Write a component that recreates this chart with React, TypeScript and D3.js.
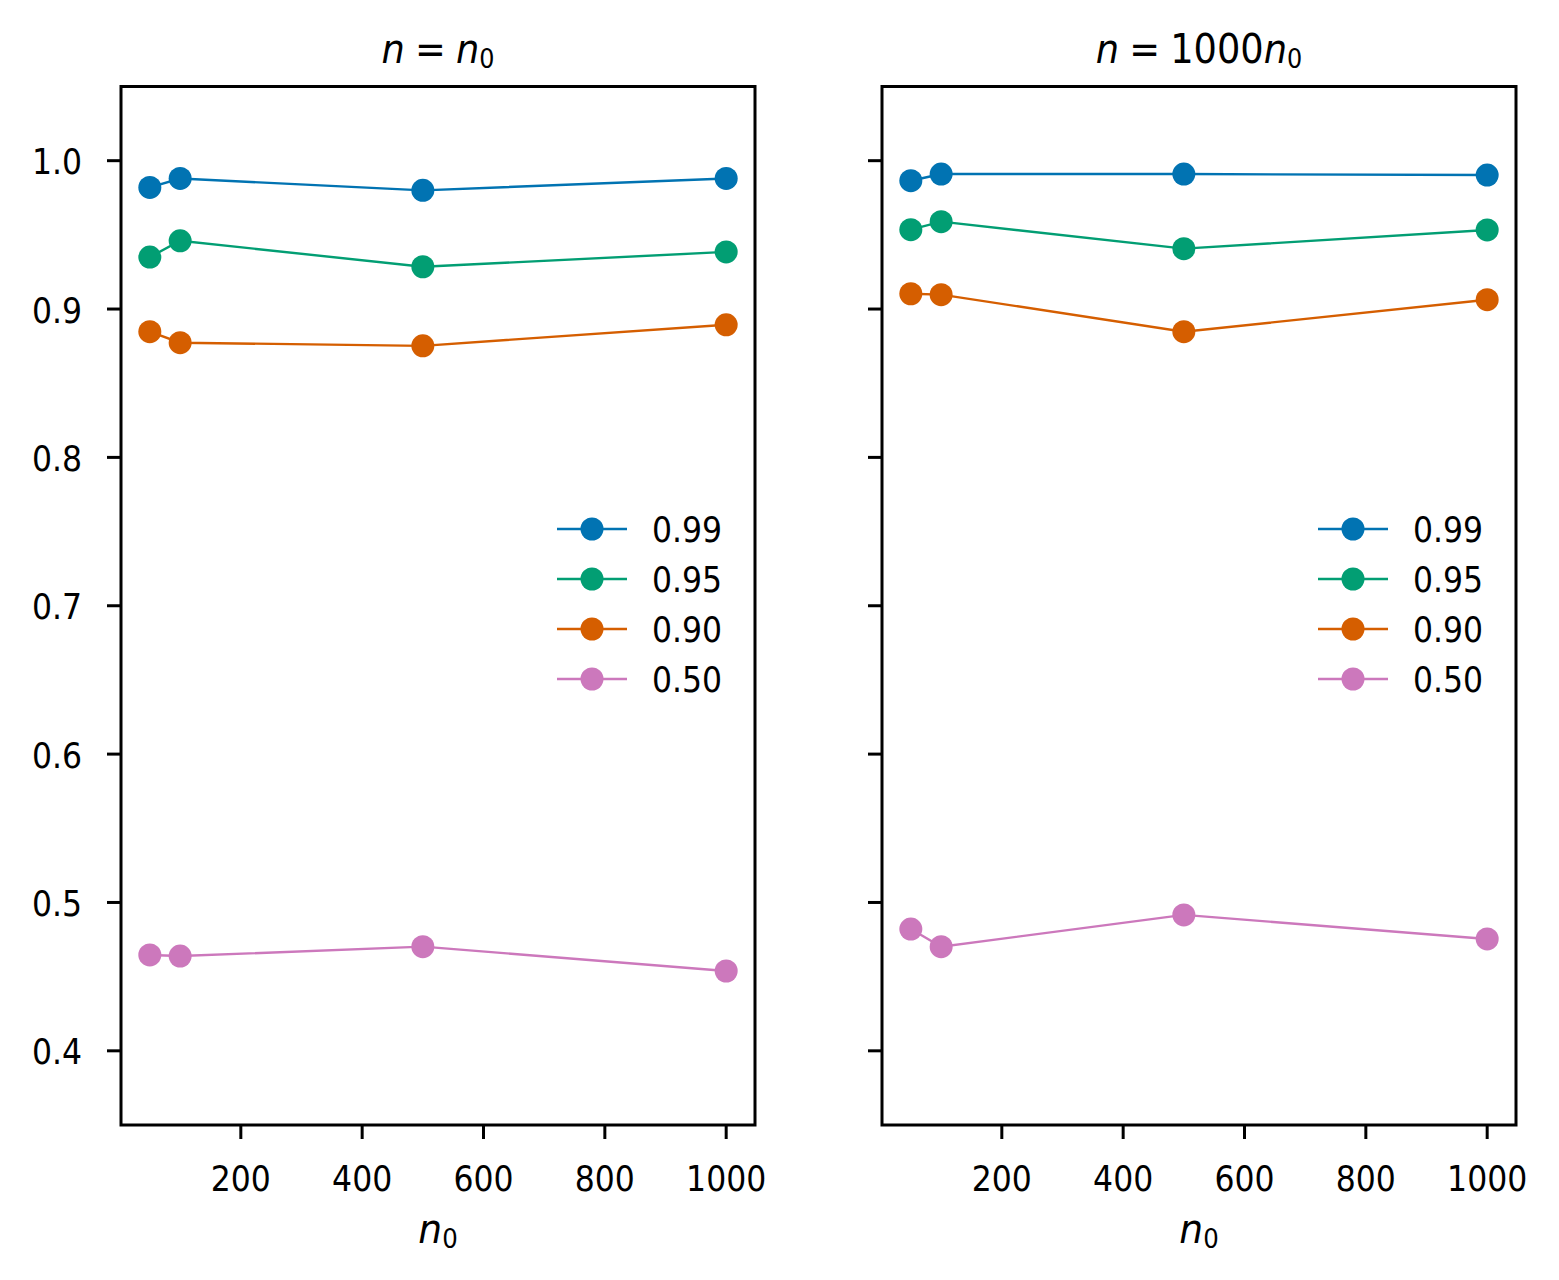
import * as d3 from "d3";

const X_VALUES = [50, 100, 500, 1000];
const LEVELS = ["0.99", "0.95", "0.90", "0.50"];
const COLORS = ["#0173b2", "#029e73", "#d55e00", "#cc78bc"];

// n = n0
const LEFT_099 = [0.982, 0.988, 0.980, 0.988];
const LEFT_095 = [0.935, 0.946, 0.9285, 0.9385];
const LEFT_090 = [0.8847, 0.8773, 0.8752, 0.8894];
const LEFT_050 = [0.4646, 0.4639, 0.4702, 0.4538];

// n = 1000 n0
const RIGHT_099 = [0.9865, 0.991, 0.991, 0.9903];
const RIGHT_095 = [0.9535, 0.9589, 0.9407, 0.9533];
const RIGHT_090 = [0.9103, 0.9097, 0.8847, 0.9063];
const RIGHT_050 = [0.4821, 0.4702, 0.4916, 0.4754];

const X_TICKS = [200, 400, 600, 800, 1000];
const Y_TICKS = [0.4, 0.5, 0.6, 0.7, 0.8, 0.9, 1.0];

const PANELS = [
  { left: 121, series: [LEFT_099, LEFT_095, LEFT_090, LEFT_050], mult: "", yLabels: true },
  { left: 882, series: [RIGHT_099, RIGHT_095, RIGHT_090, RIGHT_050], mult: "1000", yLabels: false },
];

const W = 634;
const TOP = 86.5;
const BOTTOM = 1125;
const FONT = "DejaVu Sans";
const SX = 0.9;

// text squeezed a little horizontally, like the reference render
function T({ x, y, anchor = "start", size = 35, sx = SX, children }: any) {
  return (
    <text
      transform={`translate(${x},${y}) scale(${sx},1)`}
      textAnchor={anchor}
      fontSize={size}
      fontFamily={FONT}
      fill="#000"
    >
      {children}
    </text>
  );
}

function Panel({ left, series, mult, yLabels }: any) {
  const x = d3.scaleLinear().domain([2.5, 1047.5]).range([left, left + W]);
  const y = d3.scaleLinear().domain([0.35, 1.05]).range([BOTTOM, TOP]);
  const line = d3.line<number>().x((_, i) => x(X_VALUES[i])).y((d) => y(d));
  const cx = left + W / 2;

  return (
    <g>
      <T x={cx} y={63} anchor="middle" size={40} sx={0.92}>
        <tspan fontStyle="italic">n</tspan>
        <tspan dx={11}>=</tspan>
        {mult && <tspan dx={11}>{mult}</tspan>}
        <tspan fontStyle="italic" dx={mult ? 0 : 11}>n</tspan>
        <tspan fontSize={26} dy={5}>0</tspan>
      </T>

      {series.map((s: number[], si: number) => (
        <g key={si}>
          <path d={line(s) || ""} fill="none" stroke={COLORS[si]} strokeWidth={2.4} />
          {s.map((v, i) => (
            <circle key={i} cx={x(X_VALUES[i])} cy={y(v)} r={11.5} fill={COLORS[si]} />
          ))}
        </g>
      ))}

      <rect x={left} y={TOP} width={W} height={BOTTOM - TOP} fill="none" stroke="#000" strokeWidth={3} />

      {X_TICKS.map((t) => (
        <g key={t}>
          <line x1={x(t)} x2={x(t)} y1={BOTTOM} y2={BOTTOM + 14} stroke="#000" strokeWidth={3} />
          <T x={x(t)} y={1190.5} anchor="middle">{t}</T>
        </g>
      ))}
      <T x={cx} y={1243} anchor="middle" size={40} sx={0.94}>
        <tspan fontStyle="italic">n</tspan>
        <tspan fontSize={26} dy={5}>0</tspan>
      </T>

      {Y_TICKS.map((t) => (
        <g key={t}>
          <line x1={left - 14} x2={left} y1={y(t)} y2={y(t)} stroke="#000" strokeWidth={3} />
          {yLabels && (
            <T x={left - 39} y={y(t) + 13.6} anchor="end">
              {d3.format(".1f")(t)}
            </T>
          )}
        </g>
      ))}

      {LEVELS.map((lab, i) => {
        const ly = 529 + i * 50;
        return (
          <g key={lab}>
            <line x1={left + 436} x2={left + 506} y1={ly} y2={ly} stroke={COLORS[i]} strokeWidth={2.4} />
            <circle cx={left + 471} cy={ly} r={11.5} fill={COLORS[i]} />
            <T x={left + 531} y={ly + 12.7}>{lab}</T>
          </g>
        );
      })}
    </g>
  );
}

export default function App() {
  return (
    <svg
      width={1559}
      height={1280}
      style={{ position: "absolute", left: 0, top: 0, background: "#fff" }}
    >
      <rect width={1559} height={1280} fill="#fff" />
      {PANELS.map((p, i) => (
        <Panel key={i} {...p} />
      ))}
    </svg>
  );
}
